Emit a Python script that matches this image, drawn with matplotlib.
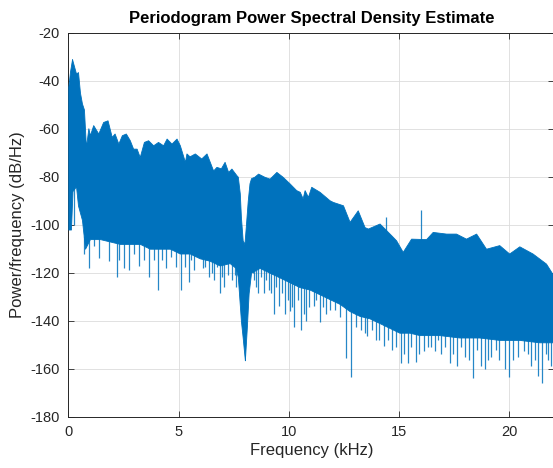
import numpy as np
import matplotlib
matplotlib.use("Agg")
import matplotlib.pyplot as plt

plt.rcParams['font.family'] = ['Liberation Sans', 'DejaVu Sans']
plt.rcParams['axes.unicode_minus'] = False

# upper edge of the spectrum band (kHz, dB/Hz)
upper_f = [0.00, 0.08, 0.17, 0.26, 0.35, 0.44, 0.53, 0.62, 0.71, 0.80, 0.91, 0.98,
           1.13, 1.36, 1.58, 1.78, 1.97, 2.10, 2.27, 2.43, 2.61, 2.79, 2.94, 3.10,
           3.24, 3.43, 3.62, 3.85, 4.07, 4.30, 4.46, 4.68, 4.91, 5.06, 5.29, 5.36,
           5.50, 5.74, 6.03, 6.27, 6.57, 6.72, 6.92, 7.09, 7.25, 7.40, 7.63, 7.69,
           7.78, 7.83, 7.91, 7.99, 8.05, 8.14, 8.22, 8.29, 8.44, 8.61, 8.89, 9.13,
           9.44, 9.72, 10.04, 10.34, 10.50, 10.63, 10.72, 10.87, 11.02, 11.40, 11.85,
           12.00, 12.46, 12.76, 13.13, 13.44, 13.59, 14.12, 14.65, 14.87, 15.17, 15.55,
           16.23, 16.53, 17.14, 17.59, 18.04, 18.50, 18.95, 19.55, 20.00, 20.46, 21.06,
           21.67, 21.95, 22.05]
upper_db = [-42.6, -36.0, -31.0, -34.0, -37.0, -36.4, -45.0, -49.5, -52.0, -67.7, -59.8, -62.7,
            -58.5, -62.0, -57.2, -56.5, -63.4, -62.0, -66.2, -62.7, -62.0, -64.8, -68.3, -68.3,
            -71.8, -65.5, -64.8, -66.9, -65.5, -66.9, -64.1, -66.2, -64.1, -66.9, -73.8, -70.3,
            -71.5, -70.3, -72.4, -70.3, -77.4, -75.9, -76.5, -73.8, -78.0, -76.6, -79.4, -80.0,
            -87.0, -96.7, -106.5, -108.0, -101.0, -90.0, -82.7, -80.6, -80.0, -78.7, -80.0, -80.8,
            -78.0, -80.0, -82.8, -85.6, -86.3, -89.0, -85.6, -88.4, -84.2, -86.3, -89.8,
            -90.5, -91.9, -98.8, -94.0, -101.0, -101.6, -99.5, -104.4, -106.5, -111.3, -105.8,
            -106.0, -103.0, -103.7, -103.7, -105.8, -103.7, -110.0, -108.5, -112.0, -109.0, -112.0,
            -116.2, -120.3, -121.0]

# lower edge of the dense part of the band
lower_f = [0.00, 0.12, 0.19, 0.35, 0.44, 0.62, 0.76, 0.98, 1.44, 1.89, 2.34, 2.79,
           3.25, 3.70, 4.15, 4.61, 5.06, 5.51, 5.96, 6.41, 6.87, 7.32, 7.59, 7.69,
           7.83, 7.91, 8.01, 8.10, 8.18, 8.29, 8.68, 9.13, 9.59, 10.04, 10.49, 10.94,
           11.40, 11.85, 12.31, 12.76, 13.21, 13.66, 14.12, 14.57, 15.02, 15.48, 15.93,
           16.83, 17.74, 18.64, 19.55, 20.46, 21.36, 22.05]
lower_db = [-102, -102, -86, -84, -92, -98, -110, -106, -106, -107, -108, -108,
            -108, -110, -110, -110, -112, -112, -114, -115, -117, -116, -118, -121.7,
            -140, -147, -156.5, -142.6, -128.6, -120, -118, -120, -122, -124, -126, -127,
            -129, -131, -133, -136, -138, -139, -141, -143, -145, -145, -146,
            -146, -147, -147, -148, -148, -149, -149]

# dips below the band
dip_f = [0.26, 0.72, 0.92, 1.18, 1.39, 1.84, 2.19, 2.31, 2.52, 2.75, 2.99, 3.20, 3.44,
         3.65, 3.89, 4.09, 4.27, 4.42, 4.65, 4.88, 5.10, 5.30, 5.46, 5.57, 5.72, 5.87,
         6.10, 6.20, 6.36, 6.51, 6.63, 6.75, 6.86, 6.97, 7.08, 7.23, 7.41, 7.54, 7.61,
         8.37, 8.44, 8.51, 8.62, 8.74, 8.86, 8.97, 9.12, 9.19, 9.32, 9.42, 9.57, 9.68,
         9.83, 9.95, 10.07, 10.14, 10.25, 10.40, 10.55, 10.67, 10.78, 10.93, 11.13,
         11.25, 11.40, 11.55, 11.67, 11.85, 12.08, 12.31, 12.61, 12.83, 13.06, 13.29,
         13.44, 13.57, 13.79, 13.97, 14.11, 14.30, 14.49, 14.69, 14.87, 15.10, 15.25,
         15.42, 15.55, 15.75, 15.93, 16.15, 16.30, 16.46, 16.62, 16.78, 16.92, 17.11,
         17.30, 17.45, 17.65, 17.83, 17.98, 18.16, 18.36, 18.56, 18.73, 18.88, 19.04,
         19.18, 19.42, 19.56, 19.79, 19.97, 20.17, 20.39, 20.52, 20.67, 20.85, 21.00,
         21.15, 21.31, 21.49, 21.68, 21.75, 21.91]
dip_db = [-100, -112, -118, -109, -114, -115, -121.7, -114.8, -118, -119, -112, -117, -114.8,
          -121.7, -114.8, -127, -114.8, -118, -113.4, -117.6, -127, -117.6, -124, -114.8, -118.7, -112,
          -118, -117.6, -121.7, -120.3, -123, -117.6, -128.6, -121.7, -126, -121, -123.1, -121, -125.9,
          -120.3, -123, -125.9, -128.6, -121.7, -128.6, -123, -127, -128.6, -137, -125.9, -134, -128.6,
          -137, -131.4, -136, -134.2, -142.6, -131.4, -144, -137, -140, -134.2, -134,
          -131.5, -140.5, -134.2, -137, -135.7, -135.6, -138.4, -155.6, -163.4, -142.6, -144,
          -145.3, -146.5, -143.9, -148, -148, -150.5, -148, -152, -150.9, -157.7, -153.7,
          -157.7, -150.9, -157, -153.7, -152.5, -150.9, -151, -152.5, -148, -153.8, -150.9,
          -157.7, -153.7, -159, -150.9, -155, -156.5, -164, -152.3, -159, -160, -156.5,
          -155, -152.3, -156.5, -160, -163.4, -156.5, -155, -148, -152.5, -153.7, -159,
          -156.5, -163, -166, -153.7, -156.5, -159]

# narrow peaks above the band
peak_f = [14.42, 16.00]
peak_db = [-96.7, -94.0]

blue = '#0072BD'

fig = plt.figure(figsize=(5.53, 4.68), dpi=100)
ax = fig.add_axes([0.1235, 0.1096, 0.879, 0.8205])

fill_x = np.array(sorted(set(upper_f) | set(lower_f)))
up = np.interp(fill_x, upper_f, upper_db)
lo = np.interp(fill_x, lower_f, lower_db)
ax.fill_between(fill_x, lo, up, color=blue, linewidth=0.6, edgecolor=blue, zorder=3)
ax.vlines(dip_f, np.interp(dip_f, lower_f, lower_db) + 2, dip_db, color=blue,
          linewidth=0.9, alpha=0.85, zorder=3)
ax.vlines(peak_f, np.interp(peak_f, upper_f, upper_db) - 2, peak_db, color=blue,
          linewidth=0.9, alpha=0.85, zorder=3)

ax.set_xlim(0, 22.05)
ax.set_ylim(-180, -20)
ax.set_xticks([0, 5, 10, 15, 20])
ax.set_yticks(np.arange(-180, -19, 20))
ax.grid(True, color='#dcdcdc', linewidth=0.6, zorder=0)
ax.set_axisbelow(True)
ax.tick_params(direction='in', length=4, width=0.6, top=True, right=True,
               labelsize=10.5, colors='#262626', pad=6)
for s in ax.spines.values():
    s.set_color('#262626')
    s.set_linewidth(0.7)

ax.set_title('Periodogram Power Spectral Density Estimate', fontsize=12,
             fontweight='bold', pad=7)
ax.set_xlabel('Frequency (kHz)', fontsize=12, color='#262626', labelpad=3)
ax.set_ylabel('Power/frequency (dB/Hz)', fontsize=12, color='#262626', labelpad=4)

fig.savefig('out.png', dpi=100)
